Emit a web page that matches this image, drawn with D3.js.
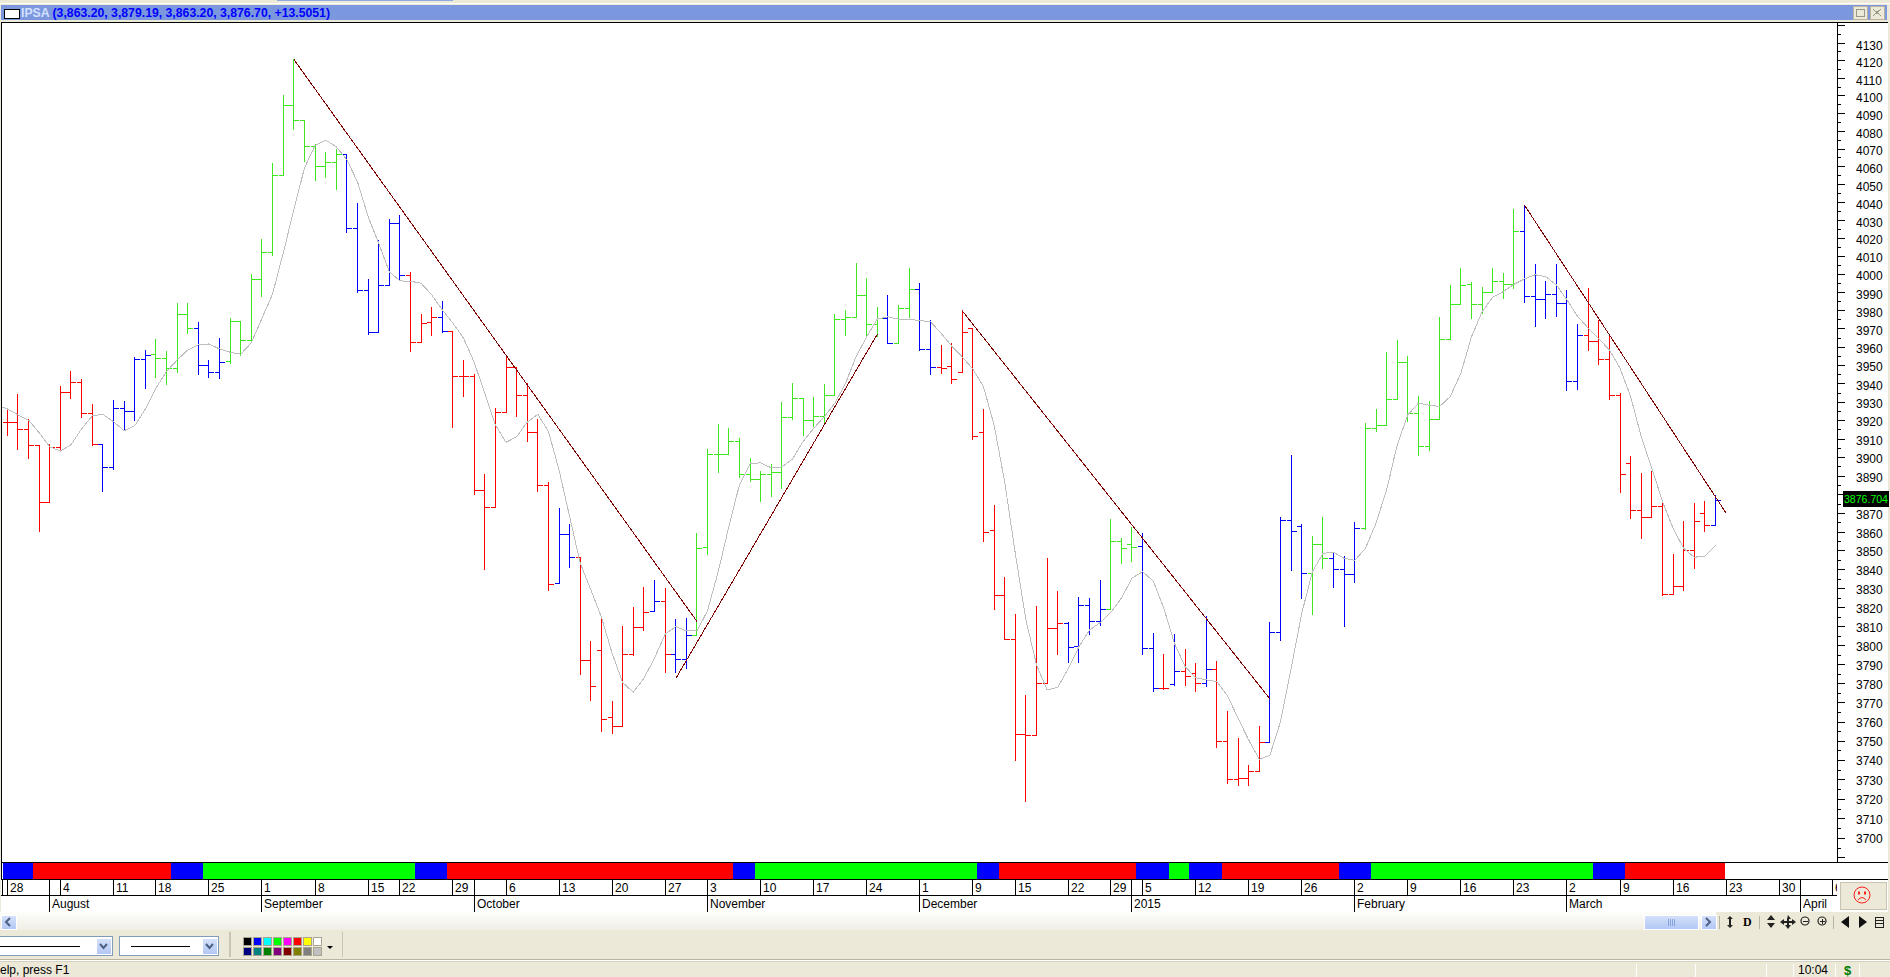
<!DOCTYPE html>
<html>

<head>
    <script src="https://d3js.org/d3.v7.min.js"></script>
    <style>
        body {
            margin: 0;
            background: #ECE9D8;
            overflow: hidden;
        }

        svg {
            display: block;
        }

        text {
            font-family: "Liberation Sans", Arial, sans-serif;
            font-size: 12px;
            fill: #000;
        }

        .crisp {
            shape-rendering: crispEdges;
        }
    </style>
</head>

<body>
    <script>
        // IPSA daily bars, one entry per trading day
        var barOpen = [3918.9, 3918.9, 3915.1, 3906.4, 3875.8, 3905.3, 3935.2, 3940.6, 3923.8, 3906.9, 3894.5, 3926.5, 3924.5, 3953.1, 3955.8, 3953.6, 3948.2, 3977.9, 3970.2, 3950,
            3946, 3951.8, 3973.6, 3963.6, 3996.7, 4012.1, 4055.1, 4094.4, 4086, 4071, 4060.1, 4062.3, 4066.8, 4025.4, 3991, 3968, 3993.8, 4028.2, 3999.3, 3962.5,
            3973.2, 3976.2, 3968.3, 3943.9, 3943.9, 3882.2, 3873.1, 3924.1, 3948.8, 3933.6, 3913.4, 3884.9, 3832.6, 3858.6, 3846.4, 3792, 3797.2, 3762.2, 3757.5, 3795.1,
            3809.2, 3817.8, 3823.1, 3795.1, 3792.5, 3805.1, 3851.7, 3901.5, 3901.5, 3908.5, 3890.8, 3888.1, 3890.8, 3891.9, 3921.6, 3931.9, 3920, 3922.1, 3933.6, 3975.1,
            3976.2, 3988.3, 3972.4, 3975.7, 3961.9, 3981.2, 3991.6, 3958.6, 3948.8, 3949.3, 3946, 3970.2, 3913.4, 3860.4, 3825.9, 3803, 3753.5, 3752.5, 3780, 3808.8,
            3811.1, 3799.1, 3821, 3812.5, 3818.9, 3854.9, 3853.3, 3852.2, 3798.3, 3777.2, 3779.1, 3786.3, 3785.2, 3780, 3787.3, 3749.7, 3730.1, 3730.7, 3734.3, 3749.2,
            3806.7, 3866.2, 3862.9, 3837.9, 3853.3, 3845.8, 3840, 3837.4, 3861.8, 3915.6, 3917.3, 3931.3, 3951.5, 3923.8, 3905.8, 3920.5, 3964.1, 3983.3, 3994.3, 3983.3,
            3989.9, 3996, 3994.3, 4023.8, 3987.7, 3986.1, 3988.8, 3983.9, 3941.1, 3966.3, 3963, 3953.1, 3933.6, 3896.7, 3871.5, 3867.7, 3873.6, 3826.8, 3831, 3850.1,
            3869.9, 3863.2];
        var barHigh = [3925, 3933.7, 3920.5, 3906.4, 3906.9, 3938.1, 3946.2, 3942.2, 3928.3, 3906.9, 3930.5, 3929.9, 3954.2, 3957.7, 3963.7, 3957.5, 3983.5, 3983.9, 3973.1, 3952.7,
            3964.3, 3975.3, 3973.8, 3999.5, 4018.9, 4061.8, 4099.7, 4120.5, 4086, 4072.5, 4068, 4069.3, 4066.8, 4039, 3997.1, 4018.4, 4030.4, 4032.3, 4001, 3977.5,
            3981.7, 3984.6, 3968.3, 3952.7, 3945, 3890.9, 3926.5, 3954.6, 3948.8, 3939.7, 3920.5, 3886.5, 3872.2, 3863.6, 3846.4, 3801.6, 3814.6, 3770.2, 3809.9, 3819.9,
            3830.1, 3833.8, 3829.6, 3813.2, 3813.7, 3858.8, 3904.2, 3917.4, 3915.3, 3910.2, 3899.4, 3892.5, 3895.8, 3929.7, 3939.7, 3931.9, 3932.1, 3939.1, 3977.5, 3979.7,
            4006, 3997.3, 3981.3, 3987.9, 3982.8, 4002.8, 3994.5, 3974.6, 3960.4, 3961.5, 3979.7, 3970.2, 3925.6, 3873.8, 3835.4, 3816.3, 3773.4, 3820.2, 3845.5, 3828,
            3811.8, 3824.8, 3824.3, 3833.8, 3866.3, 3856.5, 3862.5, 3859.3, 3805.8, 3794.8, 3805.3, 3797.9, 3790.1, 3815, 3791.6, 3765, 3751.4, 3737, 3757.2, 3811.6,
            3867.7, 3901.1, 3864, 3857.7, 3867.7, 3848.5, 3846.9, 3865.1, 3918.4, 3925.6, 3956.6, 3963.2, 3954.9, 3932.6, 3930.2, 3976.2, 3993.4, 4003.3, 3995.4, 3992.3,
            4003.3, 4000.5, 4035.6, 4038.2, 4005.5, 3995.6, 4005, 3990.7, 3972, 3991.8, 3974.2, 3966.9, 3934.7, 3900.6, 3891.3, 3892, 3874.9, 3848.1, 3865.7, 3874.9,
            3876, 3879.19];
        var barLow = [3911.6, 3904, 3899.1, 3860.1, 3875.4, 3904.2, 3931.7, 3921.2, 3906.4, 3881.5, 3893.5, 3914.5, 3919.8, 3937.1, 3943.1, 3939.6, 3945.8, 3967.2, 3944.7, 3943.1,
            3942.6, 3950.7, 3955.1, 3962.2, 3987.5, 4010.2, 4055.1, 4080.5, 4062.5, 4051.8, 4053.9, 4046.8, 4023, 3989.7, 3966.6, 3968, 3993.6, 3996.7, 3957.3, 3962.5,
            3966.1, 3968, 3916, 3932.8, 3879.8, 3839.8, 3873.1, 3924.1, 3921.9, 3908.4, 3881.5, 3828.7, 3832.6, 3840.9, 3784.8, 3770.9, 3754.7, 3753.7, 3757.5, 3794.4,
            3807.6, 3817.8, 3785.5, 3785.5, 3787.6, 3805.1, 3847.7, 3891.6, 3901.5, 3889.2, 3886.8, 3876.1, 3878.8, 3883.1, 3920.3, 3911.6, 3916.7, 3918.3, 3933.6, 3966.1,
            3976.2, 3965.9, 3965.5, 3961.9, 3961.9, 3975.8, 3958.2, 3944.7, 3945.3, 3939.7, 3945.8, 3909.6, 3854.7, 3818.5, 3803, 3739.7, 3718.7, 3752.5, 3780, 3794.9,
            3790.8, 3790.8, 3805.7, 3810.1, 3818.9, 3843.3, 3844, 3794.9, 3775.6, 3776.9, 3778.7, 3778.6, 3775.6, 3778.2, 3746.4, 3727.7, 3726.7, 3726.7, 3734.3, 3749.2,
            3802.6, 3839.1, 3824.3, 3815.9, 3840.2, 3830.3, 3809.7, 3832.9, 3861.3, 3913.8, 3917.3, 3931.3, 3919.2, 3900.7, 3903.8, 3920.5, 3963.7, 3983.3, 3975.3, 3978.4,
            3989.9, 3986.4, 3991.9, 3984.1, 3971, 3975.3, 3976.4, 3936, 3936.6, 3958.2, 3950.5, 3931.4, 3880.9, 3866.8, 3856.6, 3867.7, 3826.3, 3826.8, 3828.7, 3840.2,
            3860, 3863.2];
        var barClose = [3918.9, 3915.1, 3906.4, 3875.8, 3905.3, 3935.2, 3940.6, 3923.8, 3906.9, 3894.5, 3926.5, 3924.5, 3953.1, 3955.3, 3953.6, 3948.2, 3977.9, 3969.8, 3950, 3946,
            3951.5, 3973.6, 3963.6, 3996.7, 4012.1, 4055.1, 4094.4, 4086, 4071, 4060.1, 4062.3, 4066.8, 4025.4, 3991, 3968, 3993.8, 4028.2, 3999.3, 3962.5, 3972.9,
            3976.2, 3968.3, 3943.9, 3943.9, 3882.2, 3873.1, 3924.3, 3948.8, 3933.6, 3913.4, 3884.9, 3832.1, 3858.6, 3846.4, 3792, 3778.4, 3761.2, 3757.5, 3795.1, 3809.2,
            3817.3, 3823.1, 3795.1, 3792.5, 3805.1, 3851.1, 3901.5, 3901.5, 3908.5, 3890.8, 3888.1, 3890.8, 3891.9, 3921.6, 3931.9, 3920, 3922.1, 3933.6, 3975.1, 3976.2,
            3988.3, 3972.4, 3975.7, 3961.9, 3981.2, 3991.6, 3958.6, 3948.8, 3948.2, 3942.2, 3968, 3911, 3859.7, 3825.9, 3803, 3753.5, 3752.5, 3780, 3808.8, 3811.1,
            3798.8, 3821, 3812.5, 3818.9, 3854.9, 3851.1, 3851.4, 3798.3, 3777.2, 3777.4, 3786.3, 3783.6, 3780, 3787.3, 3749.7, 3730.1, 3730.7, 3734.3, 3749.2, 3806.7,
            3866.2, 3860.2, 3837.9, 3853.3, 3845.8, 3840, 3837.4, 3861.8, 3915.6, 3917.3, 3931.3, 3951.5, 3923.8, 3905.8, 3920.5, 3964.1, 3983.3, 3993.8, 3983.3, 3989.9,
            3996, 3994.3, 4023.8, 3987.7, 3986.1, 3988.8, 3983.9, 3941.1, 3966.3, 3963, 3953.1, 3933.6, 3890.8, 3871.5, 3867.7, 3873.6, 3826.8, 3831, 3850.1, 3865.5,
            3863.5, 3876.7];

        // bar colours as runs: how many bars in a row, and which colour
        var colorRunLength = [9, 5, 4, 3, 11, 6, 3, 1, 10, 2, 7, 1, 1, 2, 18, 1, 2, 2, 12, 4, 3, 2, 1, 1, 2, 1, 5, 4, 2, 3, 15, 6, 12, 1];
        var colorRunName = ["red", "blue", "green", "blue", "green", "blue", "red", "blue", "red", "blue", "red", "blue", "red", "blue", "green", "blue", "green", "blue", "red", "blue", "green", "blue", "red", "blue", "red", "blue", "red", "blue", "green", "blue", "green", "blue", "red", "blue"];

        // grey average line, first value sits one bar left of the first bar
        var maValues = [3928.3, 3926.1, 3922.9, 3920, 3913.2, 3905.6, 3903.3, 3906.7, 3915.2, 3922.3, 3923.2, 3919.2, 3914.3, 3916.9, 3925.9, 3937.3, 3946.4, 3952.7, 3958.2, 3961, 3961.5,
            3958.8, 3957, 3955.9, 3962.2, 3975.6, 3989, 4011.6, 4035.6, 4059, 4071.8, 4074.8, 4071, 4063.7, 4051.4, 4031.9, 4017.1, 4001.3, 3996.2, 3996, 3994.9,
            3988.5, 3980.2, 3972.9, 3964.7, 3951.5, 3934.6, 3917.4, 3908, 3911, 3918.9, 3923.2, 3913.8, 3893.1, 3868, 3843.2, 3829.1, 3814.6, 3795.7, 3780.3, 3775.3,
            3782.6, 3793.1, 3805.7, 3809.7, 3807.4, 3807.4, 3818.1, 3838.7, 3862.6, 3885, 3896.3, 3897, 3894.2, 3894.7, 3899, 3908.4, 3915.6, 3921.9, 3929.2, 3940.1,
            3954.6, 3965.5, 3975.3, 3976.4, 3975.1, 3975.1, 3974.3, 3973.8, 3967.4, 3960.4, 3954.4, 3947.8, 3938.2, 3917.4, 3886.8, 3848.5, 3813.2, 3789.6, 3776.5, 3777.8,
            3787.8, 3799.1, 3807.9, 3811.8, 3817.1, 3824.7, 3835.3, 3838.7, 3833.8, 3819.4, 3800.9, 3788.7, 3782.9, 3781.7, 3780.8, 3773.5, 3761.7, 3750.4, 3740.4, 3742.6,
            3759.9, 3787.8, 3816.7, 3838.7, 3848.5, 3849, 3845.8, 3844.8, 3851.1, 3864.5, 3882.4, 3906.6, 3922.9, 3929.2, 3928.1, 3927.4, 3932.8, 3945.5, 3965.5, 3979.2,
            3987.2, 3990.3, 3994.3, 3997.3, 3999.6, 3998.5, 3994, 3985.7, 3976.6, 3970.2, 3964.3, 3958.2, 3948.2, 3932.8, 3911, 3894, 3876.1, 3861.8, 3851.1, 3846.4,
            3847, 3852.7];

        // trend lines: bar index and price at each end
        var trendStartIndex = [27, 63, 90, 143];
        var trendStartPrice = [4120.5, 3782.4, 3979.7, 4038.2];
        var trendEndIndex = [65, 82, 119, 162];
        var trendEndPrice = [3812.4, 3966.9, 3771.8, 3869.9];

        // colour strip under the chart, edges are in bar index units
        var stripEdges = [-0.42, 2.45, 15.45, 18.47, 38.42, 41.47, 68.42, 70.44, 91.42, 93.44, 106.42, 109.46, 111.42, 114.46, 125.47, 128.5, 149.42, 152.44, 161.92];
        var stripColors = ["#0000FF", "#FF0000", "#0000FF", "#00FF00", "#0000FF", "#FF0000", "#0000FF", "#00FF00", "#0000FF", "#FF0000", "#0000FF", "#00FF00", "#0000FF", "#FF0000", "#0000FF", "#00FF00", "#0000FF", "#FF0000"];

        // date axis rows
        var dayTickIndex = [0, 5, 10, 14, 19, 24, 29, 34, 37, 42, 47, 52, 57, 62, 66, 71, 76, 81, 86, 91, 95, 100, 104, 107, 112, 117, 122, 127, 132, 137, 142, 147, 152, 157, 162, 167, 172];
        var dayTickLabel = ["28", "4", "11", "18", "25", "1", "8", "15", "22", "29", "6", "13", "20", "27", "3", "10", "17", "24", "1", "9", "15", "22", "29", "5", "12", "19", "26", "2", "9", "16", "23", "2", "9", "16", "23", "30", "6"];
        var monthTickIndex = [4, 24, 44, 66, 86, 106, 127, 147, 169];
        var monthTickLabel = ["August", "September", "October", "November", "December", "2015", "February", "March", "April"];

        var priceTicks = d3.range(3690, 4141, 10);
        var priceMinorTicks = d3.range(3695, 4141, 10);

        var paletteColors = ["#000000", "#0000FF", "#00FFFF", "#00FF00", "#FF00FF", "#FF0000", "#FFFF00", "#FFFFFF", "#000080", "#008080", "#008000", "#800080", "#800000", "#808000", "#808080", "#C0C0C0"];

        var lastPrice = 3876.704;
        var barColorMap = { red: "#FF0000", blue: "#0000FF", green: "#3EE61E" };

        // expand the colour runs to one colour per bar
        var barColor = [];
        colorRunLength.forEach(function(n, r) {
            for (var k = 0; k < n; k++) barColor.push(barColorMap[colorRunName[r]]);
        });

        var bars = barOpen.map(function(o, i) {
            return { i: i, open: o, high: barHigh[i], low: barLow[i], close: barClose[i], color: barColor[i] };
        });

        var width = 1890, height = 977;

        var svg = d3.select("body").append("svg")
            .attr("width", width)
            .attr("height", height);

        var x = d3.scaleLinear().domain([0, 161]).range([7.33, 1715.54]);
        var y = d3.scaleLog().domain([4130, 3700]).range([42.7, 837.9]);

        function px(v) { return Math.floor(v) + 0.5; }

        function rect(parent, rx, ry, rw, rh, fill) {
            return parent.append("rect").attr("class", "crisp")
                .attr("x", rx).attr("y", ry).attr("width", rw).attr("height", rh).attr("fill", fill);
        }

        function line(parent, x1, y1, x2, y2, stroke) {
            return parent.append("line").attr("class", "crisp")
                .attr("x1", x1).attr("y1", y1).attr("x2", x2).attr("y2", y2).attr("stroke", stroke);
        }

        // window frame
        rect(svg, 0, 0, width, height, "#ECE9D8");
        rect(svg, 277, 0, 176, 1, "#8FAADC");
        rect(svg, 0, 3, width, 1, "#FFFFFF");
        rect(svg, 1, 5, 1886, 15, "#7B98DF");
        rect(svg, 1, 22, 1887, 890, "#FFFFFF");
        rect(svg, 1, 22, 1887, 1, "#000000");
        rect(svg, 1, 22, 1, 858, "#000000");

        // title bar
        rect(svg, 4, 9, 15, 9, "#FFFFFF").attr("stroke", "#000").attr("stroke-width", 1);
        var title = svg.append("text").attr("x", 21).attr("y", 17)
            .attr("textLength", 309).attr("lengthAdjust", "spacingAndGlyphs")
            .style("font-size", "12.5px").style("font-weight", "bold");
        title.append("tspan").style("fill", "#D5E0FF").text("IPSA ");
        title.append("tspan").style("fill", "#0000FF").text("(3,863.20, 3,879.19, 3,863.20, 3,876.70, +13.5051)");

        // title buttons
        [1853, 1870].forEach(function(bx, n) {
            rect(svg, bx, 6, 14, 13, "#ECE9D8").attr("stroke", "#B8B4A0");
            if (n == 0) {
                rect(svg, bx + 3, 9, 8, 7, "none").attr("stroke", "#9A9888");
            } else {
                line(svg, bx + 3, 9, bx + 11, 16, "#9A9888");
                line(svg, bx + 11, 9, bx + 3, 16, "#9A9888");
            }
        });

        var chart = svg.append("g");

        // bars: high-low stem, open tick to the left, close tick to the right
        var barG = chart.selectAll(".ohlc")
            .data(bars)
            .enter().append("g")
            .attr("class", "ohlc crisp")
            .attr("stroke", function(d) { return d.color; });

        barG.append("line")
            .attr("x1", function(d) { return px(x(d.i)); })
            .attr("x2", function(d) { return px(x(d.i)); })
            .attr("y1", function(d) { return Math.floor(y(d.high)); })
            .attr("y2", function(d) { return Math.floor(y(d.low)) + 1; });

        barG.append("line")
            .attr("x1", function(d) { return Math.floor(x(d.i)) - 4; })
            .attr("x2", function(d) { return Math.floor(x(d.i)) + 1; })
            .attr("y1", function(d) { return px(y(d.open)); })
            .attr("y2", function(d) { return px(y(d.open)); });

        barG.append("line")
            .attr("x1", function(d) { return Math.floor(x(d.i)); })
            .attr("x2", function(d) { return Math.floor(x(d.i)) + 6; })
            .attr("y1", function(d) { return px(y(d.close)); })
            .attr("y2", function(d) { return px(y(d.close)); });

        // average line
        var maLine = d3.line()
            .x(function(d, i) { return x(i - 1); })
            .y(function(d) { return y(d); });

        chart.append("path")
            .datum(maValues)
            .attr("class", "crisp")
            .attr("fill", "none")
            .attr("stroke", "#BEBEBE")
            .attr("d", maLine);

        // trend lines
        chart.selectAll(".trend")
            .data(trendStartIndex)
            .enter().append("line")
            .attr("class", "trend crisp")
            .attr("stroke", "#800000")
            .attr("x1", function(d, i) { return x(trendStartIndex[i]); })
            .attr("y1", function(d, i) { return y(trendStartPrice[i]); })
            .attr("x2", function(d, i) { return x(trendEndIndex[i]); })
            .attr("y2", function(d, i) { return y(trendEndPrice[i]); });

        // hide anything left of the frame
        rect(svg, 0, 23, 1, 890, "#ECE9D8");
        rect(svg, 1, 23, 1, 857, "#000000");

        // price axis
        var axisX = 1837;
        line(svg, axisX + 0.5, 22, axisX + 0.5, 862, "#000");

        svg.append("g")
            .attr("class", "crisp")
            .attr("transform", "translate(" + axisX + ",0)")
            .call(d3.axisRight(y).tickValues(priceMinorTicks).tickSize(4).tickFormat(""))
            .call(function(g) { g.select(".domain").remove(); });

        // the 3880 label sits under the last price box, so it is left blank
        var priceAxis = svg.append("g")
            .attr("class", "crisp")
            .attr("transform", "translate(" + axisX + ",0)")
            .call(d3.axisRight(y)
                .tickValues(priceTicks)
                .tickSize(8)
                .tickPadding(11)
                .tickFormat(function(d) { return (d >= 3700 && d <= 4130 && d != 3880) ? d : ""; }));
        priceAxis.select(".domain").remove();
        priceAxis.selectAll("text")
            .attr("dy", function(d) { return 4.6 + (d - 3700) / 430 * 1.9; })
            .style("font-family", "'Liberation Sans', Arial, sans-serif")
            .style("font-size", "12px");

        // last price box
        rect(svg, 1843, 491, 46, 16, "#000000");
        svg.append("text").attr("x", 1844).attr("y", 503)
            .attr("textLength", 44).attr("lengthAdjust", "spacingAndGlyphs")
            .style("font-size", "11px").style("fill", "#00FF00")
            .text(lastPrice.toFixed(3));

        // colour strip
        svg.selectAll(".strip")
            .data(stripColors)
            .enter().append("rect")
            .attr("class", "strip crisp")
            .attr("x", function(d, i) { return x(stripEdges[i]); })
            .attr("width", function(d, i) { return x(stripEdges[i + 1]) - x(stripEdges[i]); })
            .attr("y", 862)
            .attr("height", 17)
            .attr("fill", function(d) { return d; });

        rect(svg, 1, 862, 1887, 1, "#000000");
        rect(svg, 1, 879, 1887, 1, "#000000");
        rect(svg, 1, 895, 1836, 1, "#000000");

        // date rows, clipped at the end of the rows
        var clip = svg.append("clipPath").attr("id", "dateClip");
        clip.append("rect").attr("x", 1).attr("y", 880).attr("width", 1836).attr("height", 32);
        var dates = svg.append("g").attr("clip-path", "url(#dateClip)");

        line(dates, 2.5, 880, 2.5, 895, "#000");

        dates.selectAll(".dayTick")
            .data(dayTickIndex)
            .enter().append("line")
            .attr("class", "dayTick crisp")
            .attr("stroke", "#000")
            .attr("x1", function(d) { return px(x(d)); })
            .attr("x2", function(d) { return px(x(d)); })
            .attr("y1", 880)
            .attr("y2", 895);

        dates.selectAll(".dayLabel")
            .data(dayTickLabel)
            .enter().append("text")
            .attr("class", "dayLabel")
            .attr("x", function(d, i) { return Math.floor(x(dayTickIndex[i])) + 3; })
            .attr("y", 892)
            .text(function(d) { return d; });

        dates.selectAll(".monthTick")
            .data(monthTickIndex)
            .enter().append("line")
            .attr("class", "monthTick crisp")
            .attr("stroke", "#000")
            .attr("x1", function(d) { return px(x(d)); })
            .attr("x2", function(d) { return px(x(d)); })
            .attr("y1", 880)
            .attr("y2", 912);

        dates.selectAll(".monthLabel")
            .data(monthTickLabel)
            .enter().append("text")
            .attr("class", "monthLabel")
            .attr("x", function(d, i) { return Math.floor(x(monthTickIndex[i])) + 3; })
            .attr("y", 908)
            .text(function(d) { return d; });

        // mood box with the sad face
        rect(svg, 1840, 882, 46, 27, "#ECE9D8").attr("stroke", "#C8C4B0");
        var face = svg.append("g").attr("transform", "translate(1862,895)")
            .attr("fill", "none").attr("stroke", "#FF2020").attr("stroke-width", 1);
        face.append("circle").attr("r", 8);
        face.append("path").attr("d", "M-4,5 Q0,0 4,5");
        face.append("rect").attr("x", -3.5).attr("y", -3).attr("width", 1).attr("height", 2);
        face.append("rect").attr("x", 2.5).attr("y", -3).attr("width", 1).attr("height", 2);

        // scroll bar row
        var grad = svg.append("defs").append("linearGradient")
            .attr("id", "scrollBg").attr("x1", 0).attr("x2", 0).attr("y1", 0).attr("y2", 1);
        grad.append("stop").attr("offset", "0").attr("stop-color", "#FDFDFB");
        grad.append("stop").attr("offset", "1").attr("stop-color", "#F0EEE4");
        rect(svg, 0, 912, 1716, 18, "url(#scrollBg)");

        var btnGrad = svg.select("defs").append("linearGradient")
            .attr("id", "btnBg").attr("x1", 0).attr("x2", 0).attr("y1", 0).attr("y2", 1);
        btnGrad.append("stop").attr("offset", "0").attr("stop-color", "#D6E2FB");
        btnGrad.append("stop").attr("offset", "1").attr("stop-color", "#B3C8F5");

        rect(svg, 1, 915, 15, 14, "url(#btnBg)").attr("stroke", "#FFFFFF");
        svg.append("path").attr("d", "M10,918 L6,922 L10,926").attr("fill", "none").attr("stroke", "#4D6185").attr("stroke-width", 2);
        rect(svg, 1644, 915, 54, 14, "url(#btnBg)").attr("stroke", "#FFFFFF");
        d3.range(0, 4).forEach(function(k) {
            rect(svg, 1668 + k * 2, 919, 1, 7, "#8AA4E0");
        });
        rect(svg, 1701, 915, 15, 14, "url(#btnBg)").attr("stroke", "#FFFFFF");
        svg.append("path").attr("d", "M1706,918 L1710,922 L1706,926").attr("fill", "none").attr("stroke", "#4D6185").attr("stroke-width", 2);

        // toolbar buttons at the right of the scroll bar
        rect(svg, 1719, 916, 1, 13, "#B8B4A0");
        rect(svg, 1759, 916, 1, 13, "#B8B4A0");
        rect(svg, 1833, 916, 1, 13, "#B8B4A0");
        svg.append("path").attr("d", "M1730,916 L1733,919 L1731,919 L1731,925 L1733,925 L1730,928 L1727,925 L1729,925 L1729,919 L1727,919 Z").attr("fill", "#222");
        svg.append("text").attr("x", 1743).attr("y", 926).style("font-family", "'Liberation Serif', serif").style("font-weight", "bold").style("font-size", "12px").text("D");
        svg.append("path").attr("d", "M1771,915 L1775,920 L1767,920 Z M1767,923 L1775,923 L1771,928 Z").attr("fill", "#222");
        svg.append("path").attr("d", "M1788,915 L1791,919 L1789,919 L1789,921 L1792,921 L1792,919 L1796,922 L1792,925 L1792,923 L1789,923 L1789,925 L1791,925 L1788,929 L1785,925 L1787,925 L1787,923 L1784,923 L1784,925 L1780,922 L1784,919 L1784,921 L1787,921 L1787,919 Z").attr("fill", "#222");
        [1805, 1822].forEach(function(cx, n) {
            svg.append("circle").attr("cx", cx).attr("cy", 921).attr("r", 4).attr("fill", "none").attr("stroke", "#222").attr("stroke-width", 1.2);
            line(svg, cx - 2.5, 921.5, cx + 2.5, 921.5, "#222");
            if (n == 1) line(svg, cx + 0.5, 919, cx + 0.5, 924, "#222");
        });
        svg.append("path").attr("d", "M1849,916 L1841,922 L1849,928 Z M1859,916 L1867,922 L1859,928 Z").attr("fill", "#111");
        rect(svg, 1875, 917, 8, 10, "none").attr("stroke", "#222");
        line(svg, 1875, 920.5, 1883, 920.5, "#222");
        line(svg, 1875, 923.5, 1883, 923.5, "#222");

        // style toolbar: two line combos and the colour palette
        function combo(cx, cw, lx1, lx2) {
            rect(svg, cx + 0.5, 936.5, cw, 19, "#FFFFFF").attr("stroke", "#7F9DB9");
            line(svg, lx1, 946.5, lx2, 946.5, "#000");
            rect(svg, cx + cw - 16, 938, 15, 16, "url(#btnBg)").attr("stroke", "#FFFFFF");
            svg.append("path").attr("d", "M" + (cx + cw - 12) + ",944 L" + (cx + cw - 8.5) + ",948 L" + (cx + cw - 5) + ",944")
                .attr("fill", "none").attr("stroke", "#4D6185").attr("stroke-width", 2);
        }
        combo(-3, 115, 0, 80);
        combo(119, 99, 131, 190);

        rect(svg, 229, 932, 2, 25, "#C9C5B2");
        rect(svg, 342, 932, 1, 25, "#C9C5B2");

        svg.selectAll(".swatch")
            .data(paletteColors)
            .enter().append("rect")
            .attr("class", "swatch crisp")
            .attr("x", function(d, i) { return 243 + (i % 8) * 10; })
            .attr("y", function(d, i) { return i < 8 ? 937.5 : 947.5; })
            .attr("width", 8)
            .attr("height", 8)
            .attr("fill", function(d) { return d; })
            .attr("stroke", "#A8A490");

        svg.append("path").attr("d", "M327,946 L333,946 L330,949 Z").attr("fill", "#000");

        // status bar
        rect(svg, 0, 959, width, 1, "#B8B4A0");
        rect(svg, 0, 960, width, 1, "#FFFFFF");
        rect(svg, 0, 961, width, 1, "#D5D1BE");
        [1636, 1695, 1766, 1793, 1835, 1859].forEach(function(sx) {
            rect(svg, sx, 964, 1, 13, "#FFFFFF");
        });
        svg.append("text").attr("x", 0).attr("y", 974).text("elp, press F1");
        svg.append("text").attr("x", 1798).attr("y", 974).text("10:04");
        svg.append("text").attr("x", 1844).attr("y", 975)
            .style("font-weight", "bold").style("font-size", "13px").style("fill", "#007A00").text("$");
    </script>
</body>

</html>
